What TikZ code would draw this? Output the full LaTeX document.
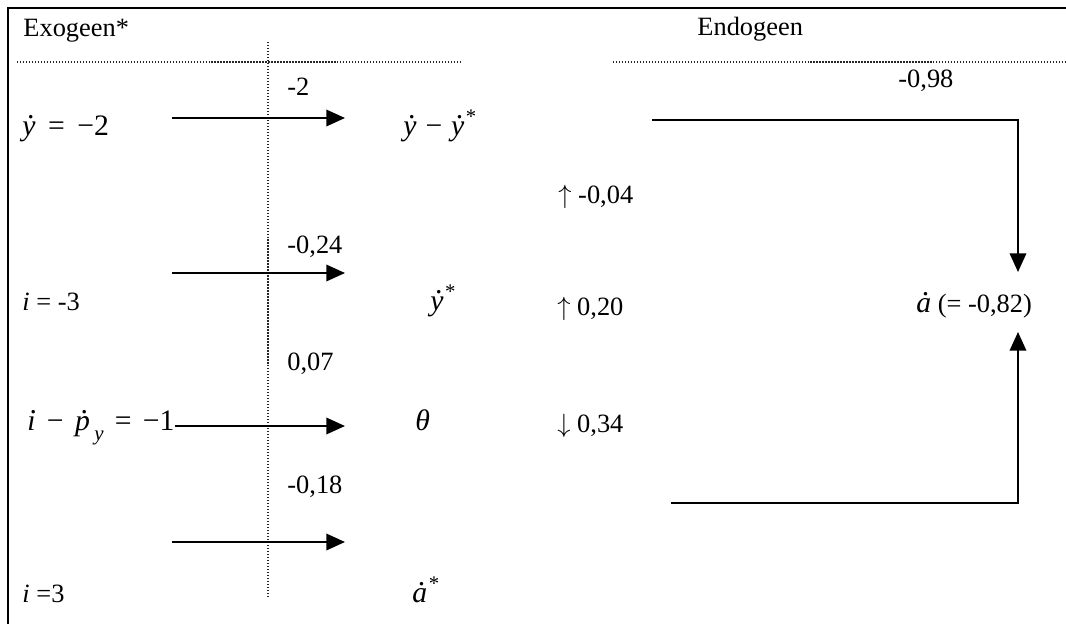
\documentclass[tikz,border=0pt]{standalone}
\usepackage{fontspec}
\setmainfont{Liberation Serif}
\usetikzlibrary{arrows.meta}
\newcommand{\dotit}[1]{\leavevmode\setbox0=\hbox{\itshape #1}\rlap{\hbox to \wd0{\hss\kern0.12em\raisebox{0.55em}{\upshape.}\hss}}\box0\relax}
\newcommand{\bigmath}{\fontsize{13.5}{16}\selectfont}
\newcommand{\gap}{\hspace{0.38em}}
\begin{document}
\begin{tikzpicture}[x=0.4545pt,y=-0.4545pt,
  lbl/.style={anchor=base west, inner sep=0pt, font=\fontsize{12}{14}\selectfont},
  mlbl/.style={anchor=base west, inner sep=0pt, font=\bigmath},
  frame/.style={line width=1.1pt},
  dots/.style={line width=0.5pt, black!85, dash pattern=on 0.6pt off 0.76pt},
  arr/.style={line width=0.9pt, -{Triangle[length=8.5pt,width=7.5pt]}}]
\useasboundingbox (0,0) rectangle (1066,624);
% frame (top and left only)
\coordinate (fTR) at (1066,8);
\coordinate (fTL) at (8,8);
\coordinate (fBL) at (8,624);
\draw[frame] (fTR) -- (fTL) -- (fBL);
% headers
\node[lbl] (exo) at (23,36) {Exogeen*};
\node[lbl] (endo) at (697,35) {Endogeen};
% dotted rules
\coordinate (dl1) at (17,62);
\coordinate (dl2) at (460,62);
\coordinate (dr1) at (613,62);
\coordinate (dr2) at (1066,62);
\coordinate (dv1) at (268,42);
\coordinate (dv2) at (268,597);
\draw[dots] (dl1) -- (dl2);
\draw[dots] (dr1) -- (dr2);
\draw[dots] (dv1) -- (dv2);
% coefficients
\node[lbl] (c1) at (287,95) {-2};
\node[lbl] (c2) at (287,253) {-0,24};
\node[lbl] (c3) at (287,370) {0,07};
\node[lbl] (c4) at (287,493) {-0,18};
\node[lbl] (c5) at (898,87) {-0,98};
% exogenous
\node[mlbl] (x1) at (22,135) {\dotit{y}\hspace{0.42em}=\hspace{0.42em}−2};
\node[lbl] (x2) at (22,310) {\textit{i} = -3};
\node[mlbl] (x3) at (27,430) {\dotit{ı}\gap−\gap\dotit{p}\kern0.15em\raisebox{-0.35em}{\fontsize{9.5}{10}\selectfont\itshape y}\gap=\gap−1};
\node[lbl] (x4) at (22,602) {\textit{i} =3};
% intermediate
\node[mlbl] (m1) at (403,135) {\dotit{y}\hspace{0.3em}−\hspace{0.3em}\dotit{y}\kern0.05em\textsuperscript{*}};
\node[mlbl] (m2) at (430,310) {\dotit{y}\kern0.05em\textsuperscript{*}};
\node[mlbl] (m3) at (415,430) {\textit{θ}};
\node[mlbl] (m4) at (412,602) {\dotit{a}\kern0.05em\textsuperscript{*}};
% changes
\node[lbl] (d1) at (558,203) {$\uparrow$ -0,04};
\node[lbl] (d2) at (557,315) {$\uparrow$ 0,20};
\node[lbl] (d3) at (557,432) {$\downarrow$ 0,34};
% result
\node[lbl] (res) at (916,312) {{\bigmath\dotit{a}} (= -0,82)};
% horizontal arrows
\coordinate (a1s) at (172,118);
\coordinate (a1e) at (345,118);
\coordinate (a2s) at (172,273);
\coordinate (a2e) at (345,273);
\coordinate (a3e) at (345,426);
\coordinate (a4s) at (172,542);
\coordinate (a4e) at (345,542);
\draw[arr] (a1s) -- (a1e);
\draw[arr] (a2s) -- (a2e);
\draw[arr] (x3.east |- a3e) -- (a3e);
\draw[arr] (a4s) -- (a4e);
% bracket connectors to result
\coordinate (t1) at (652,120);
\coordinate (t2) at (1018,120);
\coordinate (t3) at (1018,272);
\coordinate (b1) at (671,503);
\coordinate (b2) at (1018,503);
\coordinate (b3) at (1018,332);
\draw[arr] (t1) -- (t2) -- (t3);
\draw[arr] (b1) -- (b2) -- (b3);
\end{tikzpicture}
\end{document}
